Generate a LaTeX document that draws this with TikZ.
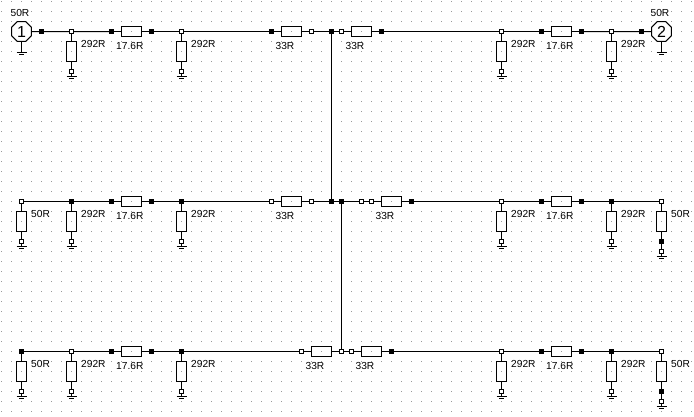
\documentclass[tikz,border=0pt]{standalone}
\usepackage{fontspec}
\setmainfont{Liberation Sans}
\usetikzlibrary{shapes.geometric}
\definecolor{griddot}{gray}{0.6}
\tikzset{
  x=1pt,y=-1pt,
  wire/.style={line width=1pt,black},
  solid pad/.style={draw=black,fill=black,line width=0pt,shape=rectangle,inner sep=0pt,minimum size=3.6pt},
  open pad/.style={draw=black,fill=white,line width=0.9pt,shape=rectangle,inner sep=0pt,minimum size=3.2pt},
  body/.style={draw=black,line width=1pt,shape=rectangle,inner sep=0pt},
  hbody/.style={body,minimum width=20pt,minimum height=10pt},
  vbody/.style={body,minimum width=10pt,minimum height=20pt},
  val/.style={inner sep=0pt,font=\fontsize{10.2pt}{11pt}\selectfont},
  port/.style={draw=black,line width=1pt,regular polygon,regular polygon sides=8,inner sep=0pt,minimum size=21.6pt,font=\fontsize{16pt}{16pt}\selectfont},
}
% ground symbol at a named coordinate
\newcommand{\gndmark}[1]{%
  \draw[wire] ([xshift=-5pt]#1) -- ([xshift=5pt]#1);
  \draw[wire] ([xshift=-2.5pt,yshift=-2.2pt]#1) -- ([xshift=2.5pt,yshift=-2.2pt]#1);
}
% #1 id, #2 x, #3 wire y, #4 top pad style, #5 label
\newcommand{\shunt}[5]{%
  \node[#4] (#1t) at (#2,#3) {};
  \node[vbody] (#1r) at (#2,#3+20) {};
  \node[open pad] (#1b) at (#2,#3+40) {};
  \coordinate (#1g) at (#2,#3+45.2);
  \node[val,anchor=west] (#1l) at (#2+9.5,#3+12.5) {#5};
  \draw[wire] (#1t) -- (#1r);
  \draw[wire] (#1r) -- (#1b);
  \draw[wire] (#1b) -- (#1g);
  \gndmark{#1g}
}
% long shunt with an extra solid pad
\newcommand{\lshunt}[5]{%
  \node[#4] (#1t) at (#2,#3) {};
  \node[vbody] (#1r) at (#2,#3+20) {};
  \node[solid pad] (#1m) at (#2,#3+40) {};
  \node[open pad] (#1b) at (#2,#3+50) {};
  \coordinate (#1g) at (#2,#3+55.2);
  \node[val,anchor=west] (#1l) at (#2+9.5,#3+12.5) {#5};
  \draw[wire] (#1t) -- (#1r);
  \draw[wire] (#1r) -- (#1m);
  \draw[wire] (#1m) -- (#1b);
  \draw[wire] (#1b) -- (#1g);
  \gndmark{#1g}
}
% #1 id, #2 body centre x, #3 wire y, #4 left pad, #5 right pad, #6 label, #7 label centre x
\newcommand{\series}[7]{%
  \node[#4] (#1a) at (#2-20,#3) {};
  \node[hbody] (#1r) at (#2,#3) {};
  \node[#5] (#1c) at (#2+20,#3) {};
  \node[val] (#1l) at (#7,#3+14.2) {#6};
  \draw[wire] (#1a) -- (#1r);
  \draw[wire] (#1r) -- (#1c);
}
\begin{document}
\begin{tikzpicture}
\useasboundingbox (0,0) rectangle (694,416);
\fill[white] (0,0) rectangle (694,416);
\foreach \i in {0,...,69}{\foreach \j in {0,...,41}{
  \fill[griddot] (1+10*\i,1+10*\j) rectangle +(1,1);
}}

% --- row 1 ---
\node[port] (p1) at (21.5,31.5) {1};
\node[val] (p1l) at (20,13.3) {50R};
\node[solid pad] (n1a) at (41.5,31.5) {};
\coordinate (p1g) at (21.5,52.5);
\draw[wire] (p1) -- (p1g);
\gndmark{p1g}
\shunt{s1a}{71.5}{31.5}{open pad}{292R}
\series{r1a}{131.5}{31.5}{solid pad}{solid pad}{17.6R}{129.8}
\shunt{s1b}{181.5}{31.5}{open pad}{292R}
\series{r1b}{291.5}{31.5}{solid pad}{open pad}{33R}{285}
\node[solid pad] (j1) at (331.5,31.5) {};
\series{r1c}{361.5}{31.5}{open pad}{solid pad}{33R}{355}
\shunt{s1c}{501.5}{31.5}{open pad}{292R}
\series{r1d}{561.5}{31.5}{solid pad}{solid pad}{17.6R}{559.8}
\shunt{s1d}{611.5}{31.5}{open pad}{292R}
\node[solid pad] (n1b) at (641.5,31.5) {};
\node[port] (p2) at (661.5,31.5) {2};
\node[val] (p2l) at (660,13.3) {50R};
\coordinate (p2g) at (661.5,52.5);
\draw[wire] (p2) -- (p2g);
\gndmark{p2g}
\draw[wire] (p1) -- (n1a) -- (s1at) -- (r1aa);
\draw[wire] (r1ac) -- (s1bt) -- (r1ba);
\draw[wire] (r1bc) -- (j1) -- (r1ca);
\draw[wire] (r1cc) -- (s1ct) -- (r1da);
\draw[wire] (r1dc) -- (s1dt) -- (n1b) -- (p2);

% --- row 2 ---
\shunt{s2a}{21.5}{201.5}{open pad}{50R}
\shunt{s2b}{71.5}{201.5}{solid pad}{292R}
\series{r2a}{131.5}{201.5}{solid pad}{solid pad}{17.6R}{129.8}
\shunt{s2c}{181.5}{201.5}{solid pad}{292R}
\series{r2b}{291.5}{201.5}{open pad}{open pad}{33R}{285}
\node[solid pad] (j2) at (331.5,201.5) {};
\node[solid pad] (j3) at (341.5,201.5) {};
\series{r2c}{391.5}{201.5}{open pad}{solid pad}{33R}{385}
\node[open pad] (n2a) at (361.5,201.5) {};
\shunt{s2d}{501.5}{201.5}{open pad}{292R}
\series{r2d}{561.5}{201.5}{solid pad}{solid pad}{17.6R}{559.8}
\shunt{s2e}{611.5}{201.5}{solid pad}{292R}
\lshunt{s2f}{661.5}{201.5}{open pad}{50R}
\draw[wire] (s2at) -- (s2bt) -- (r2aa);
\draw[wire] (r2ac) -- (s2ct) -- (r2ba);
\draw[wire] (r2bc) -- (j2) -- (j3) -- (n2a) -- (r2ca);
\draw[wire] (r2cc) -- (s2dt) -- (r2da);
\draw[wire] (r2dc) -- (s2et) -- (s2ft);

% --- row 3 ---
\shunt{s3a}{21.5}{351.5}{solid pad}{50R}
\shunt{s3b}{71.5}{351.5}{open pad}{292R}
\series{r3a}{131.5}{351.5}{solid pad}{solid pad}{17.6R}{129.8}
\shunt{s3c}{181.5}{351.5}{solid pad}{292R}
\series{r3b}{321.5}{351.5}{open pad}{open pad}{33R}{315}
\series{r3c}{371.5}{351.5}{open pad}{solid pad}{33R}{365}
\shunt{s3d}{501.5}{351.5}{open pad}{292R}
\series{r3d}{561.5}{351.5}{solid pad}{solid pad}{17.6R}{559.8}
\shunt{s3e}{611.5}{351.5}{solid pad}{292R}
\lshunt{s3f}{661.5}{351.5}{open pad}{50R}
\draw[wire] (s3at) -- (s3bt) -- (r3aa);
\draw[wire] (r3ac) -- (s3ct) -- (r3ba);
\draw[wire] (r3bc) -- (r3ca);
\draw[wire] (r3cc) -- (s3dt) -- (r3da);
\draw[wire] (r3dc) -- (s3et) -- (s3ft);

% --- trunk lines ---
\draw[wire] (j1) -- (j2);
\draw[wire] (j3) -- (r3bc);
\end{tikzpicture}
\end{document}
